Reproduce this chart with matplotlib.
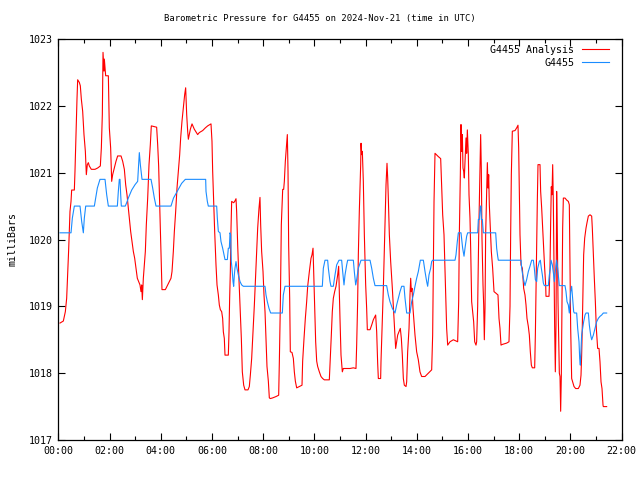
import matplotlib
matplotlib.use("Agg")
import matplotlib.pyplot as plt
from matplotlib.ticker import MultipleLocator

title = "Barometric Pressure for G4455 on 2024-Nov-21 (time in UTC)"
series_names = ["G4455 Analysis", "G4455"]
x_tick_labels = ["00:00", "02:00", "04:00", "06:00", "08:00", "10:00", "12:00",
                 "14:00", "16:00", "18:00", "20:00", "22:00"]
y_ticks = [1017, 1018, 1019, 1020, 1021, 1022, 1023]

# minutes after 00:00 UTC, pressure in mb
analysis_min = [
    4.0, 11.8, 16.5, 19.6, 22.0, 24.3, 27.4, 29.8, 31.3, 37.6, 39.1, 41.5, 43.8, 45.4, 49.3, 51.6,
    54.0, 57.1, 60.2, 63.4, 65.7, 68.0, 70.4, 72.7, 77.4, 86.0, 92.3, 98.5, 100.9, 103.2, 104.8,
    107.1, 107.9, 111.0, 117.3, 119.6, 122.7, 125.1, 127.4, 131.3, 135.2, 139.1, 147.0, 150.9,
    154.8, 157.9, 161.0, 162.6, 166.5, 169.6, 172.7, 175.9, 179.0, 182.1, 185.2, 188.4, 191.5,
    193.8, 195.4, 197.0, 199.3, 201.6, 204.0, 206.3, 209.5, 212.6, 215.7, 218.0, 230.5, 232.9,
    235.2, 237.6, 239.9, 243.0, 250.9, 256.3, 264.1, 266.5, 269.6, 272.0, 275.1, 278.2, 281.3,
    284.5, 286.8, 289.9, 293.1, 296.2, 298.5, 300.9, 303.2, 304.8, 307.1, 309.5, 313.4, 318.8,
    326.6, 330.5, 338.4, 344.6, 350.1, 357.9, 360.2, 361.8, 364.1, 366.5, 369.6, 372.0, 375.1,
    377.4, 379.8, 382.9, 385.2, 386.8, 389.1, 390.7, 398.5, 400.1, 401.6, 403.2, 404.8, 406.3,
    411.0, 413.4, 416.5, 418.0, 420.4, 422.7, 425.9, 429.0, 431.3, 434.5, 437.6, 444.6, 447.7,
    450.1, 453.2, 456.3, 459.5, 461.8, 464.9, 467.3, 470.4, 472.7, 474.3, 476.6, 479.8, 482.1,
    484.5, 486.8, 489.1, 492.3, 494.6, 497.0, 502.4, 510.2, 516.5, 518.1, 520.4, 522.7, 525.9,
    528.2, 529.8, 532.1, 535.2, 536.8, 538.4, 539.9, 542.3, 543.8, 547.7, 550.9, 553.2, 555.6,
    558.7, 564.9, 571.2, 572.7, 575.9, 579.0, 582.1, 584.5, 588.4, 592.3, 594.6, 597.0, 598.5,
    600.9, 603.2, 605.6, 607.9, 611.8, 615.7, 619.6, 623.5, 635.2, 637.5, 639.9, 642.2, 644.6,
    647.7, 650.9, 654.8, 657.1, 658.7, 660.2, 662.6, 665.7, 668.0, 683.7, 691.5, 697.7, 699.3,
    701.6, 703.2, 705.5, 708.7, 709.5, 711.0, 712.6, 714.9, 717.3, 720.4, 722.7, 724.3, 730.6,
    734.5, 738.4, 743.8, 746.2, 748.5, 750.1, 755.5, 756.3, 758.7, 761.8, 765.7, 768.1, 770.4,
    772.0, 773.5, 775.9, 779.0, 782.9, 786.0, 788.4, 790.7, 793.0, 795.4, 798.5, 801.6, 804.0,
    806.3, 808.7, 811.0, 815.0, 816.5, 818.8, 822.0, 824.3, 825.9, 827.4, 829.0, 831.3, 833.7,
    836.0, 839.9, 843.8, 847.7, 851.6, 859.5, 867.3, 875.1, 877.4, 879.0, 880.6, 882.9, 890.7,
    896.2, 898.5, 900.9, 904.0, 906.3, 908.7, 910.2, 912.6, 918.1, 925.9, 936.0, 938.4, 939.9,
    942.3, 943.8, 945.4, 947.0, 948.5, 950.1, 951.6, 953.2, 955.6, 957.1, 958.7, 961.0, 962.6,
    964.9, 966.5, 968.8, 971.2, 973.5, 975.9, 979.0, 980.5, 982.9, 985.2, 988.4, 989.9, 991.5,
    993.0, 995.4, 997.0, 998.5, 1000.1, 1001.6, 1004.0, 1005.6, 1007.1, 1008.7, 1010.2, 1012.6,
    1014.9, 1018.0, 1021.2, 1025.1, 1030.5, 1032.9, 1035.2, 1037.6, 1040.7, 1050.9, 1056.3,
    1058.7, 1060.2, 1061.8, 1064.1, 1070.4, 1074.3, 1077.4, 1079.0, 1080.5, 1082.1, 1084.5,
    1087.6, 1090.7, 1093.8, 1096.2, 1098.5, 1101.6, 1104.0, 1106.3, 1108.7, 1111.0, 1116.5,
    1118.1, 1120.4, 1122.7, 1124.3, 1129.0, 1130.5, 1132.9, 1135.2, 1137.6, 1139.9, 1142.3,
    1143.0, 1150.1, 1152.4, 1154.0, 1155.5, 1157.1, 1158.7, 1160.2, 1161.8, 1163.3, 1164.9,
    1166.5, 1168.0, 1169.6, 1171.2, 1172.7, 1174.3, 1175.9, 1177.4, 1179.0, 1180.5, 1182.1,
    1183.7, 1187.6, 1191.5, 1195.4, 1197.7, 1199.3, 1200.9, 1203.2, 1205.5, 1208.7, 1212.6,
    1218.8, 1222.7, 1225.1, 1226.6, 1228.2, 1229.8, 1231.3, 1233.7, 1236.8, 1239.1, 1242.3,
    1246.2, 1250.1, 1251.6, 1254.0, 1256.3, 1258.7, 1261.0, 1264.1, 1267.3, 1269.6, 1272.0,
    1274.3, 1276.7, 1277.4, 1285.2]
analysis_mb = [
    1018.75, 1018.78, 1018.92, 1019.12, 1019.48, 1019.85, 1020.42, 1020.57, 1020.74, 1020.74,
    1021.02, 1021.57, 1022.10, 1022.39, 1022.35, 1022.30, 1022.10, 1021.92, 1021.57, 1021.32,
    1020.97, 1021.12, 1021.15, 1021.10, 1021.05, 1021.05, 1021.07, 1021.10, 1021.37, 1021.87,
    1022.80, 1022.52, 1022.70, 1022.45, 1022.45, 1021.67, 1021.37, 1020.87, 1020.97, 1021.07,
    1021.17, 1021.25, 1021.25, 1021.17, 1021.05, 1020.82, 1020.67, 1020.57, 1020.32, 1020.12,
    1019.97, 1019.82, 1019.72, 1019.57, 1019.42, 1019.37, 1019.32, 1019.22, 1019.32, 1019.10,
    1019.42, 1019.62, 1019.82, 1020.22, 1020.62, 1021.12, 1021.42, 1021.70, 1021.68, 1021.42,
    1021.10, 1020.52, 1020.02, 1019.25, 1019.25, 1019.32, 1019.42, 1019.52, 1019.82, 1020.12,
    1020.42, 1020.77, 1021.02, 1021.27, 1021.52, 1021.77, 1021.97, 1022.17, 1022.27, 1021.87,
    1021.62, 1021.50, 1021.57, 1021.65, 1021.73, 1021.65, 1021.57, 1021.60, 1021.63, 1021.67,
    1021.70, 1021.73, 1021.47, 1021.02, 1020.57, 1020.12, 1019.62, 1019.32, 1019.17, 1019.02,
    1018.95, 1018.92, 1018.82, 1018.62, 1018.52, 1018.27, 1018.27, 1018.62, 1019.12, 1019.52,
    1020.17, 1020.57, 1020.55, 1020.57, 1020.61, 1020.42, 1019.92, 1019.52, 1019.02, 1018.52,
    1018.02, 1017.82, 1017.75, 1017.75, 1017.80, 1017.97, 1018.22, 1018.62, 1019.02, 1019.37,
    1019.82, 1020.17, 1020.47, 1020.63, 1020.22, 1019.82, 1019.52, 1019.17, 1018.92, 1018.52,
    1018.10, 1017.88, 1017.63, 1017.62, 1017.63, 1017.65, 1017.67, 1018.18, 1019.02, 1020.22,
    1020.75, 1020.75, 1020.87, 1021.17, 1021.42, 1021.57, 1021.02, 1019.92, 1019.12, 1018.32,
    1018.31, 1018.22, 1018.02, 1017.88, 1017.78, 1017.80, 1017.82, 1018.18, 1018.52, 1018.82,
    1019.07, 1019.30, 1019.52, 1019.72, 1019.77, 1019.87, 1019.52, 1018.92, 1018.47, 1018.18,
    1018.10, 1018.02, 1017.95, 1017.92, 1017.90, 1017.90, 1018.22, 1018.57, 1018.92, 1019.12,
    1019.22, 1019.30, 1019.47, 1019.60, 1019.17, 1018.82, 1018.27, 1018.02, 1018.07, 1018.07,
    1018.08, 1018.07, 1018.42, 1019.07, 1019.77, 1020.42, 1021.12, 1021.44, 1021.27, 1021.32,
    1020.87, 1020.07, 1019.32, 1018.97, 1018.65, 1018.65, 1018.72, 1018.80, 1018.87, 1018.62,
    1018.15, 1017.92, 1017.92, 1018.17, 1018.67, 1019.27, 1020.27, 1020.82, 1021.14, 1020.92,
    1020.62, 1020.07, 1019.67, 1019.27, 1018.92, 1018.62, 1018.37, 1018.47, 1018.57, 1018.62,
    1018.67, 1018.52, 1018.27, 1017.92, 1017.82, 1017.80, 1017.87, 1018.32, 1018.67, 1019.17,
    1019.42, 1019.22, 1019.27, 1018.97, 1018.77, 1018.57, 1018.32, 1018.20, 1018.02, 1017.95,
    1017.95, 1018.00, 1018.05, 1018.57, 1019.57, 1020.57, 1021.29, 1021.24, 1021.21, 1020.82,
    1020.37, 1020.07, 1019.57, 1019.07, 1018.67, 1018.42, 1018.47, 1018.50, 1018.47, 1019.07,
    1020.07, 1020.97, 1021.72, 1021.32, 1021.57, 1021.07, 1021.02, 1020.92, 1021.17, 1021.52,
    1021.29, 1021.64, 1021.27, 1020.67, 1020.32, 1019.87, 1019.07, 1018.92, 1018.77, 1018.47,
    1018.42, 1018.47, 1019.00, 1020.02, 1021.04, 1021.57, 1021.04, 1020.02, 1019.32, 1019.02,
    1018.50, 1018.97, 1020.07, 1020.72, 1021.15, 1020.77, 1020.97, 1020.52, 1020.17, 1019.82,
    1019.57, 1019.22, 1019.20, 1019.17, 1018.82, 1018.67, 1018.42, 1018.43, 1018.45, 1018.47,
    1019.00, 1020.07, 1020.97, 1021.62, 1021.63, 1021.67, 1021.71, 1021.37, 1020.77, 1020.07,
    1019.62, 1019.57, 1019.27, 1019.17, 1019.02, 1018.82, 1018.70, 1018.57, 1018.32, 1018.12,
    1018.08, 1018.08, 1018.57, 1019.57, 1020.57, 1021.12, 1021.12, 1020.72, 1020.47, 1020.17,
    1019.87, 1019.57, 1019.32, 1019.15, 1019.15, 1019.57, 1020.27, 1020.79, 1020.67, 1021.12,
    1020.57, 1019.57, 1018.70, 1018.02, 1018.72, 1020.72, 1020.07, 1019.07, 1018.57, 1018.00,
    1017.95, 1017.43, 1017.97, 1019.07, 1020.17, 1020.62, 1020.62, 1020.59, 1020.57, 1020.52,
    1019.57, 1018.67, 1017.92, 1017.87, 1017.80, 1017.77, 1017.77, 1017.82, 1017.97, 1018.27,
    1018.72, 1019.27, 1019.77, 1020.02, 1020.17, 1020.25, 1020.35, 1020.37, 1020.35, 1020.17,
    1019.77, 1019.42, 1019.07, 1018.67, 1018.37, 1018.37, 1018.17, 1017.87, 1017.77, 1017.52,
    1017.50, 1017.50]

station_min = [
    4.0, 29.8, 32.9, 37.6, 50.9, 54.8, 58.7, 61.0, 64.2, 84.5, 87.6, 91.5, 97.7, 109.5, 113.4,
    117.3, 138.4, 140.7, 143.0, 144.6, 146.2, 147.7, 157.0, 160.2, 164.1, 172.0, 179.8, 186.0,
    188.4, 189.9, 192.3, 196.2, 217.3, 221.2, 225.1, 229.0, 264.1, 270.0, 281.3, 289.1, 297.7,
    345.4, 346.2, 349.3, 351.6, 371.2, 372.7, 375.1, 379.0, 381.3, 385.2, 388.4, 390.7, 396.2,
    398.5, 400.9, 402.4, 404.0, 405.5, 407.1, 409.5, 411.0, 412.6, 414.1, 416.5, 418.8, 422.0,
    425.9, 429.8, 433.7, 484.5, 486.8, 489.9, 493.8, 497.7, 525.1, 527.4, 531.3, 618.8, 621.2,
    625.1, 631.3, 632.9, 636.8, 639.1, 644.6, 648.5, 652.4, 657.9, 664.1, 666.5, 669.6, 672.0,
    675.9, 678.2, 691.5, 693.8, 697.0, 699.3, 703.2, 709.5, 730.6, 734.5, 738.4, 742.3, 769.6,
    773.5, 777.4, 782.9, 789.1, 793.0, 797.0, 800.9, 804.8, 810.2, 812.6, 816.5, 824.3, 828.2,
    832.1, 836.0, 839.9, 843.8, 848.5, 855.6, 859.5, 863.4, 865.7, 868.8, 872.7, 875.1, 877.4,
    929.8, 932.1, 935.2, 937.6, 943.8, 947.7, 950.9, 953.2, 957.1, 959.5, 982.9, 984.5, 986.8,
    989.1, 990.7, 991.5, 993.8, 996.2, 1025.1, 1027.4, 1029.8, 1031.3, 1084.5, 1086.0, 1088.4,
    1091.5, 1093.8, 1097.7, 1101.6, 1105.5, 1109.5, 1113.4, 1115.7, 1118.1, 1121.2, 1123.5,
    1127.4, 1129.8, 1132.1, 1134.5, 1136.8, 1139.1, 1148.5, 1150.9, 1153.2, 1154.8, 1157.9,
    1161.0, 1162.6, 1164.1, 1166.5, 1168.0, 1170.4, 1172.0, 1174.3, 1187.6, 1189.9, 1192.3,
    1195.4, 1197.7, 1199.3, 1200.9, 1203.2, 1205.5, 1207.9, 1209.5, 1214.9, 1217.3, 1220.4,
    1222.0, 1223.5, 1225.1, 1226.6, 1229.0, 1231.3, 1234.5, 1236.8, 1242.3, 1244.6, 1247.7,
    1250.1, 1254.0, 1257.9, 1261.8, 1265.7, 1269.6, 1273.5, 1277.4, 1285.2]
station_mb = [
    1020.10, 1020.10, 1020.32, 1020.50, 1020.50, 1020.27, 1020.10, 1020.32, 1020.50, 1020.50,
    1020.62, 1020.77, 1020.90, 1020.90, 1020.67, 1020.50, 1020.50, 1020.72, 1020.90, 1020.90,
    1020.67, 1020.50, 1020.50, 1020.55, 1020.62, 1020.74, 1020.82, 1020.87, 1021.12, 1021.30,
    1021.12, 1020.90, 1020.90, 1020.77, 1020.62, 1020.50, 1020.50, 1020.62, 1020.75, 1020.84,
    1020.90, 1020.90, 1020.72, 1020.57, 1020.50, 1020.50, 1020.32, 1020.12, 1020.10, 1019.97,
    1019.87, 1019.77, 1019.70, 1019.70, 1019.87, 1019.87, 1020.10, 1020.07, 1019.67, 1019.57,
    1019.37, 1019.30, 1019.47, 1019.57, 1019.67, 1019.57, 1019.47, 1019.37, 1019.32, 1019.30,
    1019.30, 1019.17, 1019.07, 1018.97, 1018.90, 1018.90, 1019.17, 1019.30, 1019.30, 1019.57,
    1019.69, 1019.69, 1019.57, 1019.37, 1019.30, 1019.30, 1019.47, 1019.62, 1019.69, 1019.69,
    1019.52, 1019.32, 1019.47, 1019.62, 1019.69, 1019.69, 1019.52, 1019.32, 1019.40, 1019.57,
    1019.69, 1019.69, 1019.57, 1019.42, 1019.31, 1019.31, 1019.17, 1019.07, 1018.97, 1018.90,
    1019.02, 1019.12, 1019.22, 1019.30, 1019.30, 1019.12, 1018.90, 1018.90, 1019.07, 1019.17,
    1019.30, 1019.42, 1019.52, 1019.69, 1019.69, 1019.52, 1019.37, 1019.30, 1019.47, 1019.57,
    1019.67, 1019.69, 1019.69, 1019.77, 1019.97, 1020.10, 1020.10, 1019.87, 1019.75, 1019.87,
    1020.05, 1020.10, 1020.10, 1020.30, 1020.30, 1020.50, 1020.50, 1020.30, 1020.30, 1020.10,
    1020.10, 1019.87, 1019.75, 1019.69, 1019.69, 1019.57, 1019.47, 1019.37, 1019.31, 1019.40,
    1019.52, 1019.60, 1019.69, 1019.69, 1019.57, 1019.40, 1019.37, 1019.57, 1019.67, 1019.69,
    1019.57, 1019.47, 1019.35, 1019.31, 1019.31, 1019.47, 1019.57, 1019.69, 1019.62, 1019.47,
    1019.37, 1019.47, 1019.62, 1019.69, 1019.57, 1019.47, 1019.31, 1019.31, 1019.22, 1019.07,
    1019.02, 1018.90, 1019.07, 1019.22, 1019.30, 1019.12, 1018.92, 1018.90, 1018.90, 1018.67,
    1018.47, 1018.22, 1018.12, 1018.37, 1018.57, 1018.67, 1018.77, 1018.87, 1018.90, 1018.90,
    1018.72, 1018.57, 1018.50, 1018.57, 1018.67, 1018.77, 1018.82, 1018.85, 1018.87, 1018.90,
    1018.90]

colors = ["#ff0000", "#1a8cff"]
mono = "DejaVu Sans Mono"

fig = plt.figure(figsize=(6.4, 4.8), dpi=100)
ax = fig.add_axes([58.3 / 640, 1 - 440 / 480, (621.5 - 58.3) / 640, (440 - 39) / 480])

ax.plot(analysis_min, analysis_mb, color=colors[0], lw=0.8, label=series_names[0])
ax.plot(station_min, station_mb, color=colors[1], lw=0.8, label=series_names[1])

ax.set_xlim(0, 22 * 60)
ax.set_ylim(y_ticks[0], y_ticks[-1])
ax.set_xticks([i * 120 for i in range(len(x_tick_labels))])
ax.set_xticklabels(x_tick_labels, fontfamily=mono, fontsize=7.2)
ax.xaxis.set_minor_locator(MultipleLocator(60))
ax.set_yticks(y_ticks)
ax.set_yticklabels([str(v) for v in y_ticks], fontfamily=mono, fontsize=7.2)
ax.tick_params(which="both", direction="in", top=True, right=True, width=0.8, color="black")
ax.tick_params(which="major", length=5, pad=4)
ax.tick_params(which="minor", length=3)
for s in ax.spines.values():
    s.set_linewidth(0.9)

ax.set_ylabel("milliBars", fontfamily=mono, fontsize=7.2, labelpad=8)
fig.text(0.5, 1 - 19 / 480, title, ha="center", va="center", fontfamily=mono, fontsize=6.4)

leg = ax.legend(loc="upper right", bbox_to_anchor=(0.9876, 1.0), markerfirst=False,
                frameon=False, prop={"family": mono, "size": 7.2}, handlelength=2.7,
                handletextpad=0.75, labelspacing=0.3, borderaxespad=0.3,
                borderpad=0.3)

fig.savefig("out.png", dpi=100)
